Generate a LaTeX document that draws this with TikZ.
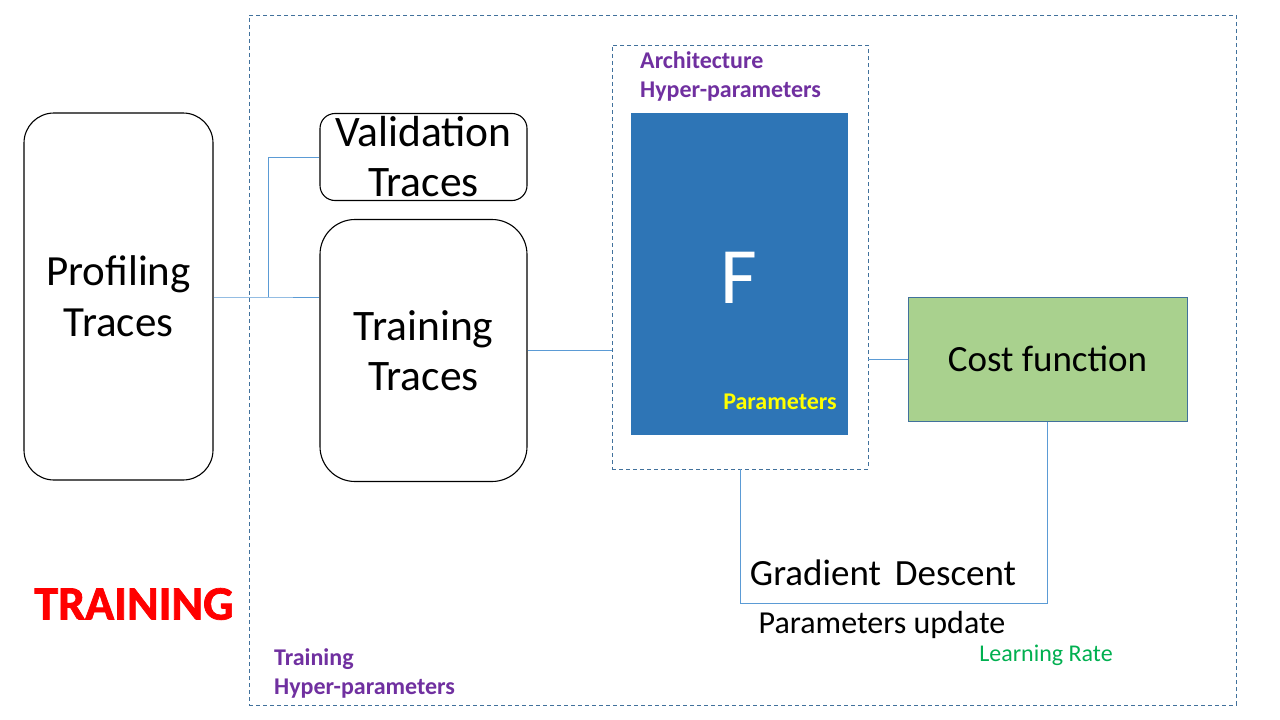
\documentclass[tikz,border=0pt]{standalone}
\usepackage{fontspec}
\setmainfont{Carlito}
\newfontfamily\heavyfont{Carlito}[BoldFeatures={FakeBold=1.5}]
\definecolor{lineblue}{HTML}{5B9BD5}
\definecolor{dashblue}{HTML}{41719C}
\definecolor{fblue}{HTML}{2E75B6}
\definecolor{costgreen}{HTML}{A9D18E}
\definecolor{hpurple}{HTML}{7030A0}
\definecolor{lrgreen}{HTML}{00B050}
\definecolor{pyellow}{HTML}{FFFF00}
\definecolor{tred}{HTML}{FF0000}
\tikzset{
  tracebox/.style={draw=black, line width=1.1pt, align=center, inner sep=0pt},
  dashbox/.style={draw=dashblue, line width=0.9pt, dash pattern=on 4pt off 3pt, inner sep=0pt},
  conn/.style={draw=lineblue, line width=1pt},
  hyper/.style={font=\fontsize{24}{29}\selectfont\bfseries, text=hpurple, align=left, inner sep=0pt},
}
\begin{document}
\begin{tikzpicture}[x=1pt,y=-1pt]
\useasboundingbox[fill=white] (0,0) rectangle (1280,720);
% outer dashed box
\node[dashbox, minimum width=987pt, minimum height=690pt] (outer) at (742.5,360) {};
% inner dashed box
\node[dashbox, minimum width=256pt, minimum height=424pt] (inner) at (740,257) {};
% Profiling
\node[tracebox, rounded corners=30pt, minimum width=189pt, minimum height=367pt,
  font=\fontsize{43}{51}\selectfont] (prof) at (118.5,296.5) {Profiling\\Traces};
% Validation
\node[tracebox, rounded corners=15pt, minimum width=207pt, minimum height=87pt,
  font=\fontsize{43.5}{50}\selectfont] (val) at (423.5,157) {Validation\\Traces};
% Training
\node[tracebox, rounded corners=35pt, minimum width=207pt, minimum height=262pt,
  font=\fontsize{43.5}{50}\selectfont] (train) at (423.5,350.5) {Training\\Traces};
% F box
\node[fill=fblue, minimum width=217pt, minimum height=322pt, inner sep=0pt] (F) at (739.5,274) {};
\node[text=white, font=\fontsize{80}{80}\selectfont, inner sep=0pt] (Flab) at (739,278) {F};
\node[text=pyellow, font=\fontsize{24}{28}\selectfont\bfseries, inner sep=0pt] (params) at (780,402) {Parameters};
% Architecture hyper-parameters
\node[hyper, anchor=west] (arch) at (640,76) {Architecture\\Hyper-parameters};
% Cost function
\node[draw=dashblue, line width=1pt, fill=costgreen, minimum width=279pt, minimum height=124pt,
  font=\fontsize{37}{44}\selectfont, inner sep=0pt] (cost) at (1047.5,359) {Cost function};
% connectors
\coordinate (split) at (268,297);
\draw[conn] (prof.east |- split) -- (split) -- (train.west |- split);
\draw[conn] (split) |- (val.west);
\draw[conn] (train.east) -- (inner.west |- train.east);
\draw[conn] (inner.east |- cost.west) -- (cost.west);
\coordinate (gdl) at (740,603);
\draw[conn] (inner.south) -- (gdl) -| (cost.south);
% labels
\node[font=\fontsize{37}{44}\selectfont, inner sep=0pt] (gd) at (883,573) {Gradient\hspace{0.15em} Descent};
\node[font=\fontsize{32}{38}\selectfont, inner sep=0pt] (pu) at (882,625) {Parameters update};
\node[text=lrgreen, font=\fontsize{24}{28}\selectfont, inner sep=0pt] (lr) at (1046,655) {Learning Rate};
\node[text=tred, font=\heavyfont\fontsize{48}{52}\selectfont\bfseries, inner sep=0pt] (tr) at (134,604) {TRAINING};
\node[hyper, anchor=west] (trh) at (274,673) {Training\\Hyper-parameters};
\end{tikzpicture}
\end{document}
